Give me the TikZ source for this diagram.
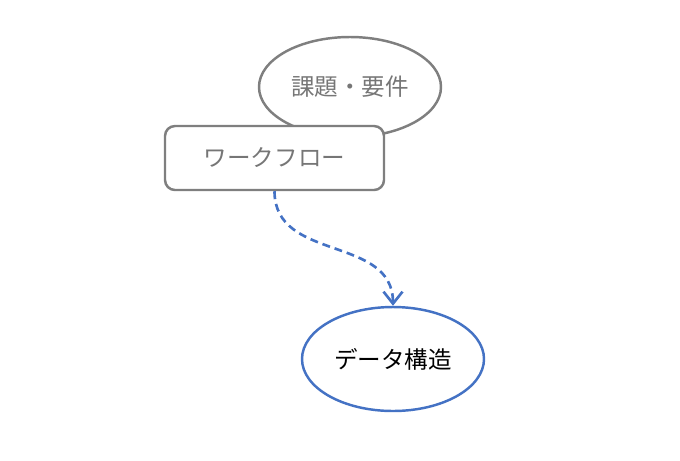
\documentclass[tikz,border=0pt]{standalone}
\usepackage{fontspec}
\setmainfont{Noto Sans CJK JP}
\usepackage{xcolor}
\usetikzlibrary{arrows.meta,shapes.geometric}
\definecolor{linegray}{RGB}{127,127,127}
\definecolor{txtgray}{RGB}{118,118,118}
\definecolor{dsblue}{RGB}{68,114,196}
\tikzset{
	topic/.style={ellipse,draw=linegray,line width=1.4pt,fill=white,text=txtgray,inner sep=0pt,minimum width=3.64cm,minimum height=2cm},
	flowbox/.style={rectangle,rounded corners=0.2cm,draw=linegray,line width=1.4pt,fill=white,text=txtgray,inner sep=0pt,minimum width=4.38cm,minimum height=1.28cm},
	dataell/.style={ellipse,draw=dsblue,line width=1.4pt,fill=white,text=black,inner sep=0pt,minimum width=3.64cm,minimum height=2.08cm},
	flowarrow/.style={-{Straight Barb[length=0.24cm,width=0.38cm]},draw=dsblue,line width=1.5pt,dash pattern=on 4.5pt off 2.8pt}
}

\begin{document}
\begin{tikzpicture}[font=\fontsize{13.4}{16}\selectfont]
		\useasboundingbox (0,0) rectangle (13.6,-9.2);
		\node[topic] (req) at (7.0,-1.74) {課題・要件};
		\node[flowbox] (wf) at (5.49,-3.16) {ワークフロー};
		\node[dataell] (ds) at (7.86,-7.18) {データ構造};
		%
		\draw[flowarrow] (wf.south) to[out=-90,in=90,looseness=1.1] (ds.north);
		\end{tikzpicture}
\end{document}
